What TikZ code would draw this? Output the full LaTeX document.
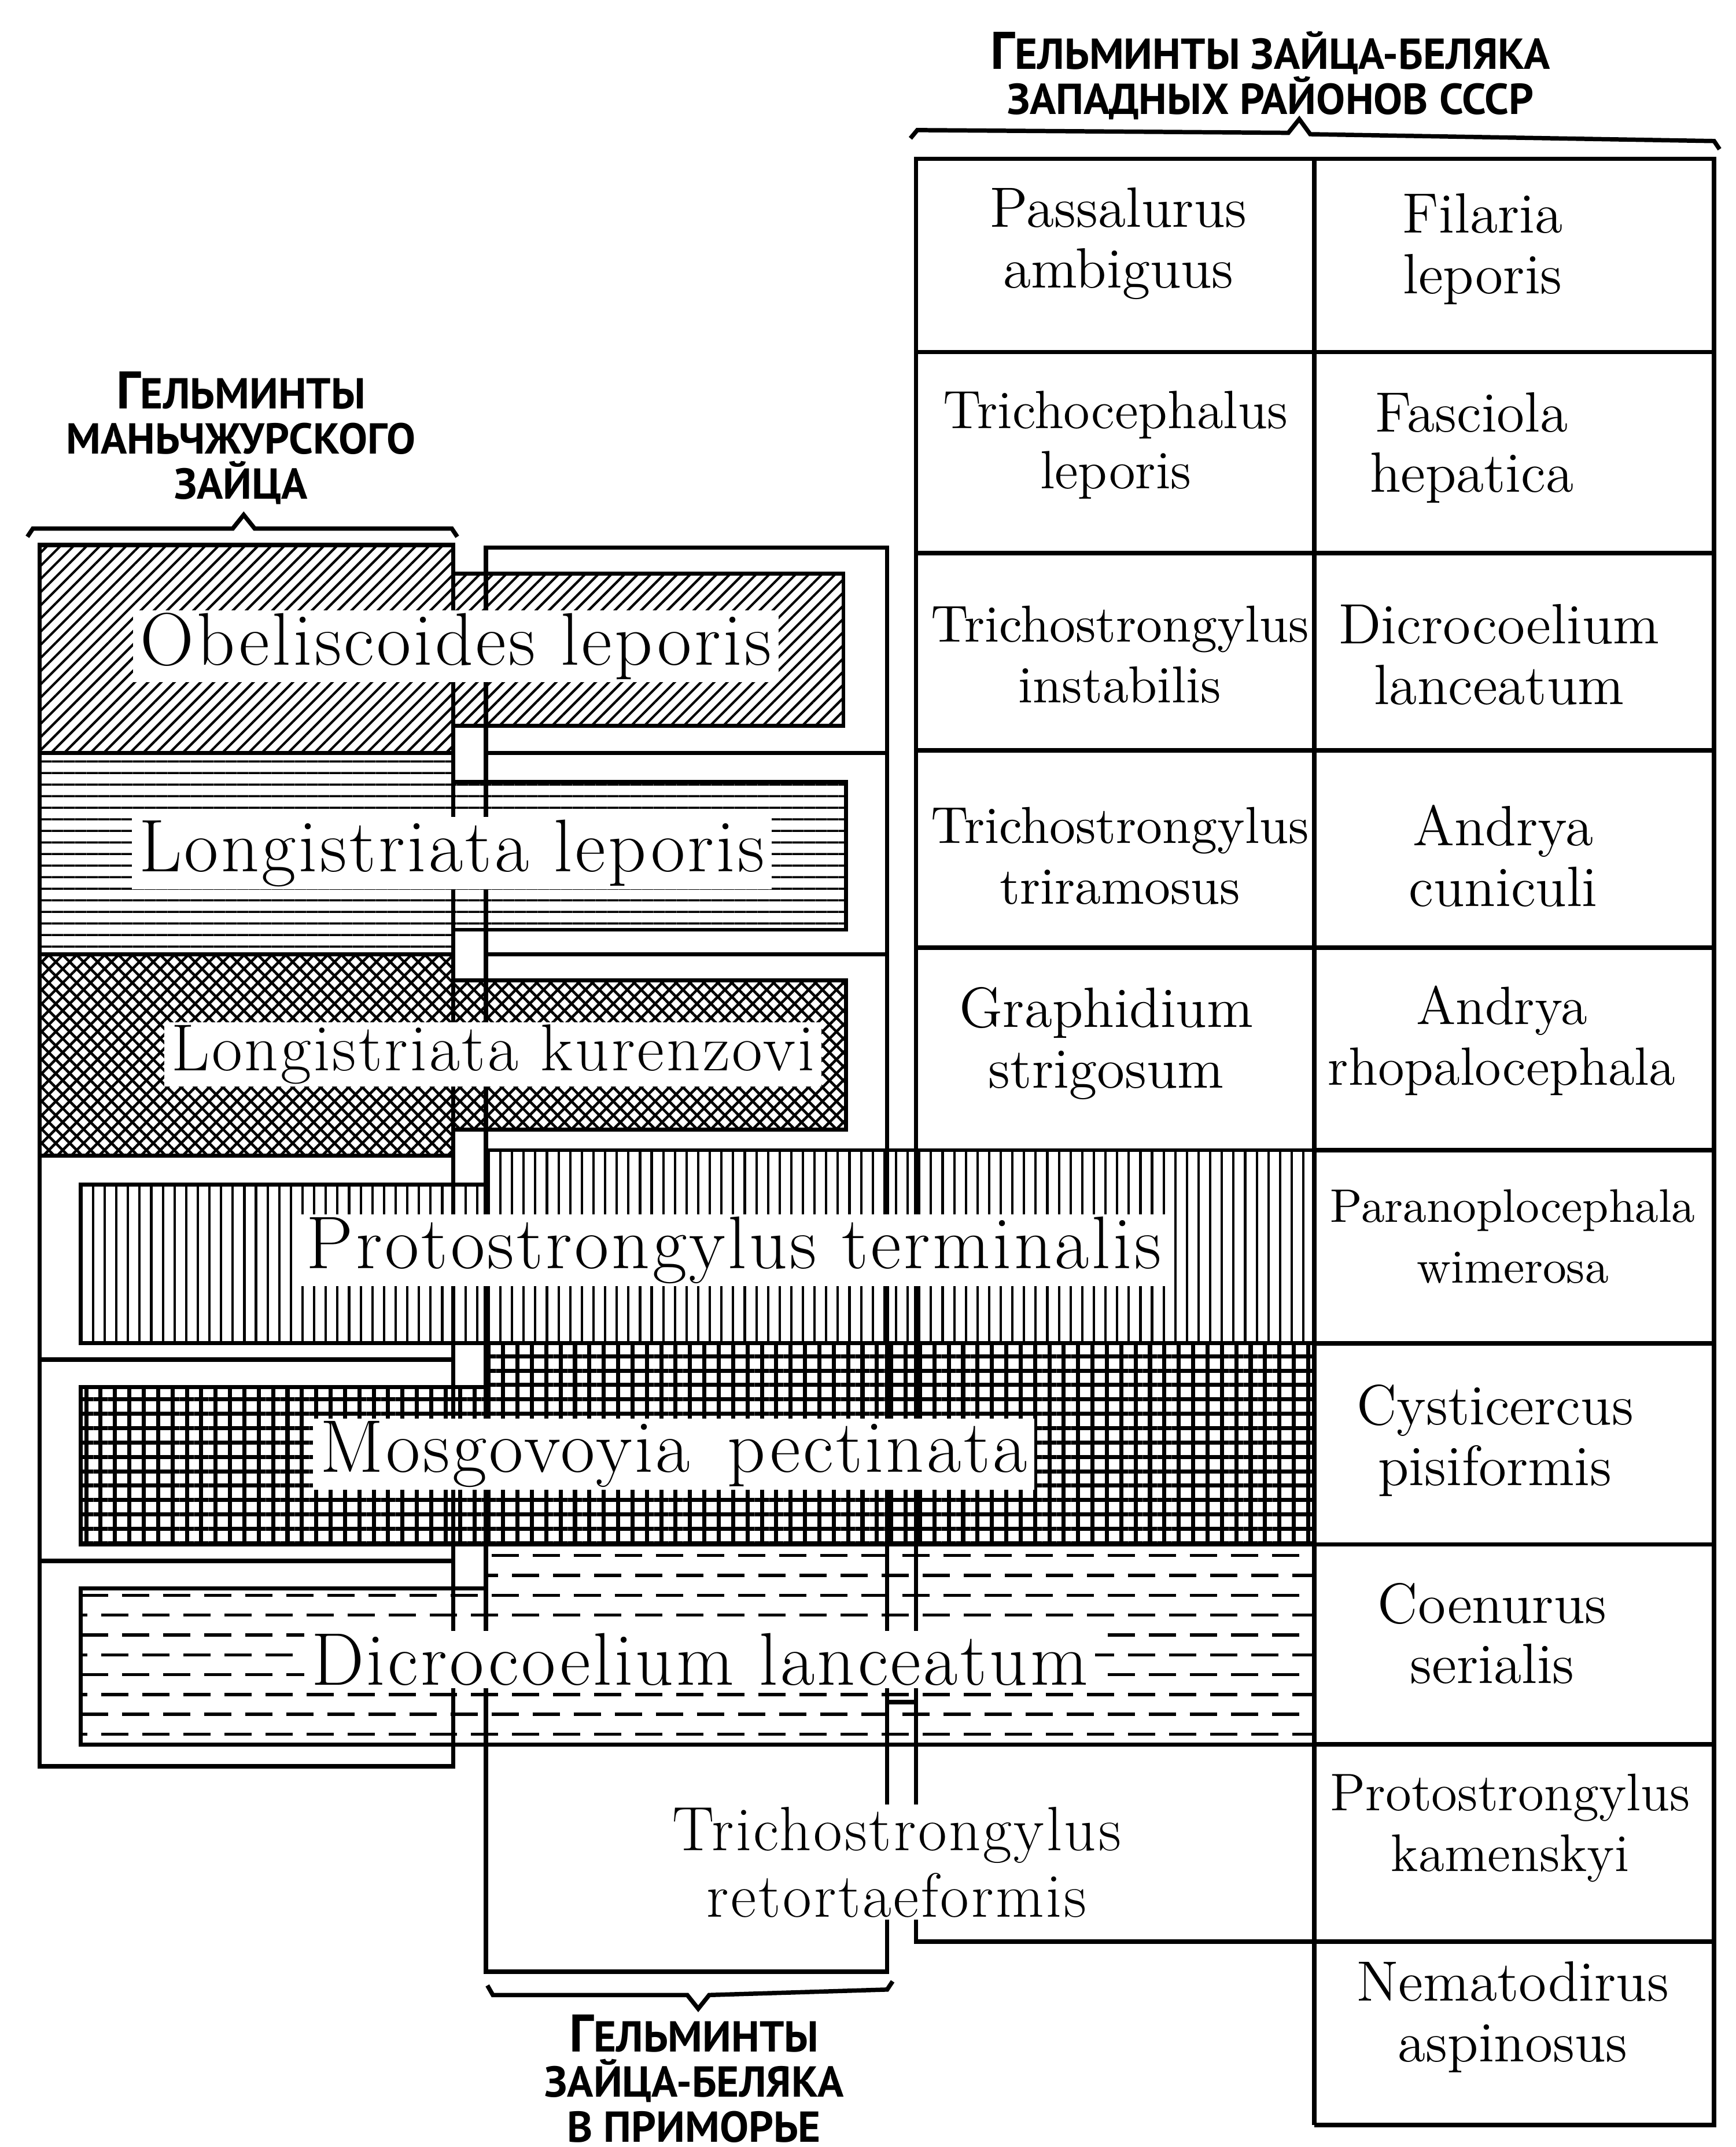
\documentclass[tikz,border=0pt]{standalone}
\usepackage{fontspec}
\usetikzlibrary{patterns.meta}
\newfontfamily\hdrfont{PT Sans}
\newfontfamily\tagfont{lmroman17-regular}[Extension=.otf, LetterSpace=3.5]
\newcommand{\capG}{{\fontsize{11}{9}\selectfont Г}}
\tikzset{
    frm/.style={line width=0.9pt},
    band/.style={draw, line width=0.8pt},
    tag/.style={fill=white, inner xsep=1.5pt, inner ysep=0.5pt, font=\tagfont\fontsize{15.5}{17}\selectfont},
    cell/.style={align=center, inner sep=0pt, font=\fontsize{11.8}{12.6}\selectfont},
    hdr/.style={align=center, inner sep=0pt, font=\hdrfont\bfseries\fontsize{9}{9.4}\selectfont}
}

\begin{document}
\begin{tikzpicture}[x=0.1mm, y=-0.1mm]
    \useasboundingbox (0,0) rectangle (1268,1568);

    \draw[band, pattern={Lines[angle=45, distance=0.68mm, line width=0.5pt]}]
    (29,398) -- (331,398) -- (331,419) -- (616,419) -- (616,530) -- (331,530) -- (331,550) -- (29,550) -- cycle;
    \draw[band, pattern={Lines[angle=0, distance=0.86mm, line width=0.45pt]}]
    (29,550) -- (331,550) -- (331,571) -- (618,571) -- (618,679) -- (331,679) -- (331,697) -- (29,697) -- cycle;
    \draw[band, pattern={Hatch[angle=45, distance=0.72mm, line width=0.55pt]}]
    (29,697) -- (331,697) -- (331,716) -- (618,716) -- (618,825) -- (331,825) -- (331,844) -- (29,844) -- cycle;
    \draw[band, pattern={Lines[angle=90, distance=0.85mm, line width=0.5pt]}]
    (59,865) -- (355,865) -- (355,840) -- (960,840) -- (960,981) -- (59,981) -- cycle;
    \draw[band, pattern={Hatch[angle=0, distance=1.05mm, line width=0.85pt]}]
    (59,1013) -- (355,1013) -- (355,981) -- (960,981) -- (960,1128) -- (59,1128) -- cycle;

    \begin{scope}
        \clip (59,1160) -- (355,1160) -- (355,1128) -- (960,1128) -- (960,1274) -- (59,1274) -- cycle;
        \foreach \yy in {1136,1165,...,1274}
            \draw[line width=0.65pt, dash pattern=on 2mm off 1mm] (59,\yy) -- (960,\yy);
        \foreach \yy in {1150.5,1179.5,...,1274}
            \draw[line width=0.65pt, dash pattern=on 2mm off 1mm, dash phase=1.5mm] (59,\yy) -- (960,\yy);
    \end{scope}
    \draw[band] (59,1160) -- (355,1160) -- (355,1128) -- (960,1128) -- (960,1274) -- (59,1274) -- cycle;

    \draw[frm] (29,398) rectangle (331,1290);
    \draw[frm] (29,993) -- (331,993) (29,1140) -- (331,1140);

    \draw[frm] (355,400) rectangle (648,1440);
    \draw[frm] (355,550) -- (648,550) (355,697) -- (648,697);

    \draw[frm] (960,1552) -- (1252,1552) -- (1252,116) -- (669,116) -- (669,1418) -- (960,1418);
    \draw[frm] (960,116) -- (960,1552);
    \draw[frm]
    (669,257) -- (1252,257)
    (669,404) -- (1252,404)
    (669,548) -- (1252,548)
    (669,692) -- (1252,692)
    (960,840) -- (1252,840)
    (960,981) -- (1252,981)
    (960,1128) -- (1252,1128)
    (960,1274) -- (1252,1274)
    (960,1418) -- (1252,1418);

    \node[tag] (obel) at (333,472) {Obeliscoides leporis};
    \node[tag] (llep) at (330,623) {Longistriata leporis};
    \node[tag, font=\tagfont\fontsize{13.8}{16}\selectfont] (lkur) at (360,770) {Longistriata kurenzovi};
    \node[tag] (proto) at (536,913) {Protostrongylus terminalis};
    \node[tag] (mosg) at (492,1062) {Mosgovoyia\hspace{0.5em}pectinata};
    \node[tag] (dicro) at (511,1212) {Dicrocoelium lanceatum};
    \node[tag, align=center, font=\tagfont\fontsize{13}{13.8}\selectfont] (tret) at (655,1360) {Trichostrongylus\\retortaeformis};
    \draw[frm] (648,1243) -- (669,1243);

    \node[cell] (pas) at (817,178) {Passalurus\\ambiguus};
    \node[cell] (fil) at (1083,182) {Filaria\\leporis};
    \node[cell, font=\fontsize{11.2}{12.6}\selectfont] (tricho) at (815,325) {Trichocephalus\\leporis};
    \node[cell] (fasc) at (1075,327) {Fasciola\\hepatica};
    \node[cell, font=\fontsize{10.8}{12.6}\selectfont] (tinst) at (818,478) {Trichostrongylus\\instabilis};
    \node[cell] (dicr) at (1095,478) {Dicrocoelium\\lanceatum};
    \node[cell, font=\fontsize{10.8}{12.6}\selectfont] (ttri) at (818,625) {Trichostrongylus\\triramosus};
    \node[cell] (acun) at (1098,625) {Andrya\\cuniculi};
    \node[cell] (graph) at (808,762) {Graphidium\\strigosum};
    \node[cell, font=\fontsize{11.2}{12.6}\selectfont] (arho) at (1097,760) {Andrya\\rhopalocephala};
    \node[cell, font=\fontsize{9.8}{12.6}\selectfont] (paran) at (1105,903) {Paranoplocephala\\wimerosa};
    \node[cell] (cyst) at (1092,1052) {Cysticercus\\pisiformis};
    \node[cell] (coen) at (1090,1193) {Coenurus\\serialis};
    \node[cell, font=\fontsize{11}{12.6}\selectfont] (pkam) at (1103,1335) {Protostrongylus\\kamenskyi};
    \node[cell] (nema) at (1105,1473) {Nematodirus\\aspinosus};

    \draw[frm] (20,392) -- (24,386) -- (170,386) -- (178,376) -- (186,386) -- (330,386) -- (334,392);
    \draw[frm] (665,101) -- (670,95) -- (941,97) -- (949,87) -- (957,98) -- (1252,103) -- (1256,109);
    \draw[frm] (356,1450) -- (360,1457) -- (502,1457) -- (510,1467) -- (518,1457) -- (648,1453) -- (652,1447);

    \node[hdr] (hwest) at (928,55) {\capG ЕЛЬМИНТЫ ЗАЙЦА-БЕЛЯКА\\ЗАПАДНЫХ РАЙОНОВ СССР};
    \node[hdr] (hmanch) at (176,320) {\capG ЕЛЬМИНТЫ\\МАНЬЧЖУРСКОГО\\ЗАЙЦА};
    \node[hdr] (hprim) at (507,1518) {\capG ЕЛЬМИНТЫ\\ЗАЙЦА-БЕЛЯКА\\В ПРИМОРЬЕ};
\end{tikzpicture}
\end{document}
